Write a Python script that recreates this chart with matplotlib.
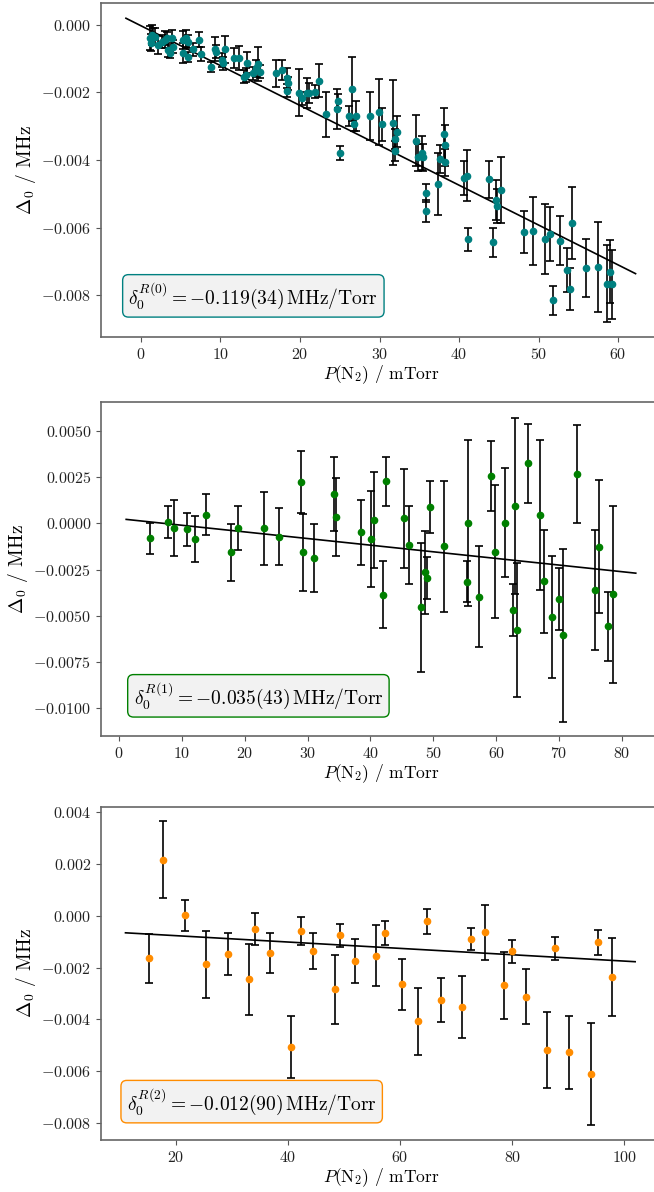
import numpy as np
import matplotlib
matplotlib.use("Agg")
import matplotlib.pyplot as plt
from matplotlib.ticker import MultipleLocator

plt.rcParams['font.family'] = 'serif'
plt.rcParams['font.serif'] = ['cmr10']
plt.rcParams['mathtext.fontset'] = 'cm'
plt.rcParams['axes.formatter.use_mathtext'] = True
plt.rcParams['axes.unicode_minus'] = True

# ---- R(0): pressure (mTorr), shift and error (1e-3 MHz)
p_r0 = [1.13, 1.34, 1.55, 1.22, 1.76, 2.18, 2.6, 3.02, 3.23, 3.44, 3.65, 3.86, 3.98,
        5.24, 5.32, 5.66, 5.95, 5.95, 6.58, 7.34, 7.55, 8.76, 9.31, 9.39, 10.15, 10.27,
        10.57, 11.70, 12.37, 12.96, 13.2, 13.37, 14.13, 14.47, 14.72, 14.97, 16.98,
        17.69, 18.32, 18.53, 18.41, 19.92, 20.21, 20.84, 21.17, 21.89, 22.43, 23.27,
        24.61, 24.82, 25.03, 26.2, 26.5, 26.79, 27.04, 28.8,
        29.94, 30.27, 31.74, 31.95, 31.95, 32.24, 34.59, 34.8, 35.39, 35.51, 35.85,
        35.83, 37.4, 37.61, 38.11, 38.26, 38.2, 40.63, 41.05, 41.1, 43.82, 44.32, 44.61,
        44.77, 45.28, 48.18, 49.27, 50.86, 51.45, 51.78, 52.66, 53.58, 54.0, 54.26,
        55.93, 57.44, 58.66, 59.0, 59.29]
d_r0 = [-0.395, -0.296, -0.346, -0.524, -0.346, -0.593, -0.494, -0.444, -0.395, -0.741,
        -0.840, -0.395, -0.642, -0.444, -0.840, -0.395, -0.494, -0.938, -0.721, -0.444,
        -0.859, -1.235, -0.721, -0.790, -1.037, -1.136, -0.721, -0.988, -0.988, -1.531,
        -1.482, -1.116, -1.432, -1.284, -1.156, -1.383, -1.432, -1.333, -1.580, -1.728,
        -1.946, -2.005, -2.173, -2.025, -2.025, -1.975, -1.649, -2.647, -2.499, -2.252,
        -3.783, -2.696, -1.906, -2.943, -2.696, -2.696,
        -2.568, -2.943, -2.894, -3.387, -3.723, -3.161, -3.427, -3.921, -3.783, -3.921,
        -4.968, -5.501, -4.711, -3.970, -3.240, -3.565, -4.069, -4.523, -4.464, -6.35,
        -4.573, -6.44, -5.185, -5.353, -4.899, -6.124, -6.104, -6.341, -6.203, -8.158,
        -6.390, -7.259, -7.813, -5.857, -7.2, -7.18, -7.665, -7.309, -7.685]
e_r0 = [0.35, 0.3, 0.25, 0.25, 0.25, 0.27, 0.2, 0.25, 0.2, 0.2, 0.15, 0.25, 0.2,
        0.27, 0.3, 0.25, 0.2, 0.15, 0.2, 0.22, 0.2, 0.15, 0.35, 0.2, 0.2, 0.2, 0.4,
        0.3, 0.36, 0.2, 0.2, 0.3, 0.2, 0.25, 0.49, 0.2, 0.4, 0.3, 0.3, 0.2, 0.2, 0.69,
        0.2, 0.44, 0.3, 0.2, 0.48, 0.66, 0.59, 0.2, 0.21, 0.31, 0.95, 0.2, 0.44, 0.7,
        0.98, 0.49, 1.26, 0.3, 0.3, 0.46, 0.76, 0.4, 0.5, 0.4, 0.27, 0.32, 0.93, 0.4,
        0.79, 0.6, 0.4, 0.5, 0.76, 0.33, 0.54, 0.44, 0.6, 0.5, 0.98, 0.62, 1.01, 1.04,
        0.8, 0.43, 0.72, 0.64, 0.63, 1.06, 0.85, 1.33, 1.14, 0.93, 1.01]

# ---- R(1)
p_r1 = [4.86, 7.77, 8.78, 10.8, 12.12, 13.87, 17.8, 18.86, 23.1, 25.38, 28.93, 29.35,
        30.95, 34.18, 34.45, 38.53, 40.07, 40.49, 41.92, 42.4, 45.32, 46.06, 48.02,
        48.6, 49.03, 49.51, 51.68, 55.34, 55.55, 57.3, 59.1, 59.74, 61.33, 62.71,
        62.98, 63.24, 64.99, 67.0, 67.53, 68.92, 69.98, 70.61, 72.78, 75.65, 76.34,
        77.82, 78.51]
d_r1 = [-0.812, 0.088, -0.254, -0.325, -0.85, 0.467, -1.57, -0.236, -0.27, -0.723,
        2.253, -1.57, -1.86, 1.567, 0.34, -0.47, -0.85, 0.18, -3.86, 2.27, 0.27, -1.156,
        -4.55, -2.65, -2.96, 0.866, -1.228, -3.158, 0.034, -3.97, 2.56, -1.535, 0.034,
        -4.67, 0.936, -5.755, 3.263, 0.467, -3.122, -5.07, -4.078, -6.06, 2.668, -3.625,
        -1.264, -5.573, -3.842]
e_r1 = [0.85, 0.87, 1.53, 0.9, 1.23, 1.12, 1.56, 1.19, 1.99, 1.54, 1.68, 2.07, 1.83,
        2.0, 2.12, 1.76, 2.6, 2.59, 1.8, 1.32, 2.67, 2.1, 3.47, 2.23, 1.14, 1.41, 3.54,
        1.1, 4.49, 2.74, 1.91, 3.6, 2.94, 1.41, 4.77, 3.63, 2.14, 4.05, 2.79, 3.32,
        1.67, 4.67, 2.67, 3.25, 3.6, 1.88, 4.78]

# ---- R(2)
p_r2 = [15.18, 17.75, 21.67, 25.3, 29.22, 32.97, 34.21, 36.83, 40.58, 42.36, 44.43,
        48.3, 49.31, 51.93, 55.62, 57.22, 60.31, 63.16, 64.83, 67.21, 71.01, 72.56,
        75.11, 78.45, 79.87, 82.37, 86.11, 87.6, 90.09, 93.96, 95.33, 97.76]
d_r2 = [-1.648, 2.167, 0.015, -1.88, -1.469, -2.46, -0.514, -1.443, -5.079, -0.592,
        -1.353, -2.835, -0.759, -1.752, -1.546, -0.656, -2.642, -4.085, -0.205, -3.26,
        -3.532, -0.888, -0.643, -2.693, -1.366, -3.119, -5.195, -1.262, -5.272, -6.11,
        -1.03, -2.371]
e_r2 = [0.93, 1.49, 0.61, 1.3, 0.81, 1.39, 0.61, 0.77, 1.21, 0.54, 0.69, 1.33, 0.46,
        0.86, 1.18, 0.47, 0.99, 1.28, 0.48, 0.86, 1.21, 0.43, 1.05, 1.28, 0.44, 1.07,
        1.46, 0.45, 1.41, 1.97, 0.48, 1.52]

# linear fits: slope (MHz/mTorr), intercept (MHz), line range (mTorr)
fits = [(-0.000118, -0.000025, -1.89, 62.2),
        (-0.0000359, 0.000257, 1.15, 82.2),
        (-0.0000123, -0.000520, 11.03, 101.9)]
labels = [r'$\delta_0^{R(0)} = -0.119(34)\,\mathrm{MHz/Torr}$',
          r'$\delta_0^{R(1)} = -0.035(43)\,\mathrm{MHz/Torr}$',
          r'$\delta_0^{R(2)} = -0.012(90)\,\mathrm{MHz/Torr}$']
colors = ['#008080', '#008000', '#ff8c00']

xlims = [(-5.03, 65.54), (-2.86, 86.39), (6.66, 106.71)]
ylims = [(-0.00924, 0.00065), (-0.01152, 0.00657), (-0.00867, 0.00422)]
xsteps = [10, 10, 20]
ysteps = [0.002, 0.0025, 0.002]
boxpos = [(0.049, 0.077), (0.058, 0.075), (0.046, 0.069)]
axpos = [[0.1544, 0.7173, 0.858, 0.2802],
         [0.1544, 0.3823, 0.858, 0.2805],
         [0.1544, 0.0436, 0.858, 0.2796]]

data = [(p_r0, d_r0, e_r0), (p_r1, d_r1, e_r1), (p_r2, d_r2, e_r2)]

fig = plt.figure(figsize=(6.54, 11.92), dpi=100)
for i in range(3):
    ax = fig.add_axes(axpos[i])
    p, d, e = data[i]
    d = np.array(d) * 1e-3
    e = np.array(e) * 1e-3
    m, b, x0, x1 = fits[i]
    xx = np.array([x0, x1])
    ax.plot(xx, m * xx + b, color='black', lw=1.2, zorder=1)
    ax.errorbar(p, d, yerr=e, fmt='o', color=colors[i], ecolor='black',
                elinewidth=1.2, capsize=3.2, capthick=1.2, ms=4.5, zorder=2)
    ax.set_xlim(*xlims[i])
    ax.set_ylim(*ylims[i])
    ax.xaxis.set_major_locator(MultipleLocator(xsteps[i]))
    ax.yaxis.set_major_locator(MultipleLocator(ysteps[i]))
    ax.set_xlabel(r'$P(\mathrm{N}_2)$ / mTorr', fontsize=12.5, labelpad=1)
    ax.set_ylabel(r'$\Delta_0$ / MHz', fontsize=14, labelpad=2)
    ax.tick_params(labelsize=11.5, color='#555555', labelcolor='#222222')
    for s in ax.spines.values():
        s.set_color('#666666')
        s.set_linewidth(1.2)
    ax.text(boxpos[i][0], boxpos[i][1], labels[i], transform=ax.transAxes,
            fontsize=14, va='bottom', ha='left',
            bbox=dict(boxstyle='round,pad=0.3', facecolor='#f2f2f2',
                      edgecolor=colors[i], lw=1))

fig.savefig('out.png', dpi=100)
